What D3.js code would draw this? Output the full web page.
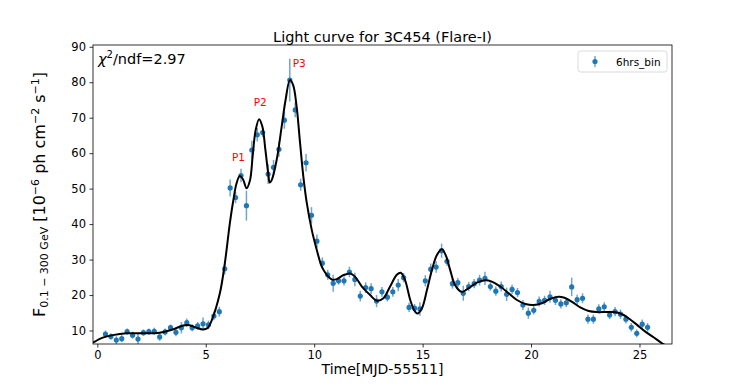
<!DOCTYPE html>
<html>
<head>
<meta charset="utf-8">
<script src="https://cdn.jsdelivr.net/npm/d3@7"></script>
<style>
  body { margin: 0; background: #fff; }
  svg text { font-family: "DejaVu Sans", sans-serif; }
</style>
</head>
<body>
<div id="chart"></div>
<script>
// 6 hour binned light curve (time in MJD-55511)
var times = [0.375, 0.625, 0.875, 1.125, 1.375, 1.625, 1.875, 2.125, 2.375, 2.625,
  2.875, 3.125, 3.375, 3.625, 3.875, 4.125, 4.375, 4.625, 4.875, 5.125,
  5.375, 5.625, 5.875, 6.125, 6.375, 6.625, 6.875, 7.125, 7.375, 7.625,
  7.875, 8.125, 8.375, 8.625, 8.875, 9.125, 9.375, 9.625, 9.875, 10.125,
  10.375, 10.625, 10.875, 11.125, 11.375, 11.625, 11.875, 12.125, 12.375, 12.625,
  12.875, 13.125, 13.375, 13.625, 13.875, 14.125, 14.375, 14.625, 14.875, 15.125,
  15.375, 15.625, 15.875, 16.125, 16.375, 16.625, 16.875, 17.125, 17.375, 17.625,
  17.875, 18.125, 18.375, 18.625, 18.875, 19.125, 19.375, 19.625, 19.875, 20.125,
  20.375, 20.625, 20.875, 21.125, 21.375, 21.625, 21.875, 22.125, 22.375, 22.625,
  22.875, 23.125, 23.375, 23.625, 23.875, 24.125, 24.375, 24.625, 24.875, 25.125,
  25.375];
var flux = [9.0, 8.3, 7.3, 7.7, 9.7, 8.7, 7.6, 9.4, 9.7, 9.8,
  8.2, 9.6, 10.8, 9.5, 10.8, 12.2, 10.8, 11.3, 11.9, 11.6,
  14.1, 15.3, 27.4, 50.2, 47.5, 53.7, 45.2, 60.9, 65.2, 65.8,
  54.1, 56.0, 61.1, 69.3, 80.6, 72.2, 51.1, 57.3, 42.5, 35.2,
  29.0, 25.7, 23.3, 24.0, 24.0, 26.5, 24.4, 19.7, 22.1, 21.8,
  18.3, 20.9, 19.4, 20.9, 22.8, 24.9, 16.5, 16.3, 16.1, 24.0,
  27.3, 27.9, 32.5, 29.5, 23.2, 23.5, 20.5, 22.4, 23.2, 24.2,
  24.7, 22.4, 21.1, 22.4, 20.2, 21.6, 20.7, 17.2, 14.9, 15.7,
  18.2, 18.5, 19.5, 18.5, 17.5, 17.8, 22.3, 18.7, 19.1, 13.2,
  13.2, 16.1, 16.7, 14.4, 15.3, 14.6, 13.2, 10.9, 9.2, 11.8,
  10.9];
var fluxErr = [1.0, 0.9, 1.1, 1.0, 0.9, 1.0, 1.6, 0.9, 0.9, 1.0,
  1.1, 1.0, 0.9, 1.1, 1.6, 1.2, 1.0, 1.1, 1.8, 1.2,
  1.2, 1.4, 1.6, 2.4, 1.6, 1.9, 4.2, 2.6, 1.9, 1.3,
  2.8, 2.1, 2.1, 2.4, 6.0, 2.1, 1.7, 2.5, 2.3, 1.9,
  1.6, 1.4, 2.4, 1.1, 1.3, 1.5, 1.9, 1.5, 1.5, 1.5,
  1.7, 1.4, 1.2, 1.4, 1.7, 1.3, 1.3, 1.2, 1.9, 1.6,
  1.6, 1.6, 2.0, 1.3, 1.4, 1.3, 2.1, 1.3, 1.3, 1.5,
  1.9, 1.2, 1.3, 1.4, 1.9, 1.3, 1.3, 1.4, 1.6, 1.2,
  1.4, 1.3, 1.7, 1.3, 1.3, 1.2, 2.6, 1.4, 1.4, 1.3,
  1.3, 1.3, 1.3, 1.2, 1.3, 1.3, 1.2, 1.2, 1.1, 1.3,
  1.2];

// fitted model curve
var fitT = [-0.2, 0.25, 0.71, 1.34, 2.10, 2.87, 3.48, 3.95, 4.25, 4.56,
  4.87, 5.10, 5.27, 5.65, 5.88, 6.11, 6.26, 6.42, 6.57, 6.72,
  6.88, 7.04, 7.16, 7.30, 7.46, 7.61, 7.75, 7.88, 7.95, 8.04,
  8.27, 8.50, 8.68, 8.88, 9.03, 9.19, 9.35, 9.50, 9.66, 9.89,
  10.12, 10.35, 10.58, 10.81, 11.04, 11.34, 11.65, 11.88, 12.20, 12.58,
  12.89, 13.19, 13.50, 13.81, 13.99, 14.19, 14.43, 14.61, 14.76, 14.97,
  15.20, 15.43, 15.66, 15.89, 16.08, 16.27, 16.50, 16.80, 17.11, 17.50,
  17.89, 18.19, 18.58, 18.97, 19.35, 19.74, 20.12, 20.50, 20.88, 21.27,
  21.50, 21.89, 22.27, 22.66, 23.04, 23.42, 23.81, 24.20, 24.51, 24.89,
  25.27, 25.65, 26.04, 26.3];
var fitV = [6.6, 8.0, 8.7, 9.2, 9.2, 9.4, 10.3, 11.4, 11.5, 10.8,
  10.3, 10.8, 12.8, 20.5, 29.0, 40.2, 46.3, 51.5, 53.6, 52.6,
  50.1, 52.4, 59.0, 66.5, 69.6, 67.5, 60.9, 54.3, 51.7, 52.4,
  58.1, 67.5, 75.0, 80.6, 79.2, 73.1, 62.8, 53.4, 45.9, 38.3,
  32.7, 28.0, 25.7, 24.4, 24.5, 25.6, 26.1, 25.2, 22.4, 20.0,
  18.4, 19.1, 22.4, 25.7, 26.3, 24.2, 18.6, 15.8, 14.8, 16.3,
  21.4, 27.1, 31.3, 32.9, 31.0, 27.1, 22.8, 20.9, 21.9, 23.5,
  24.2, 23.8, 22.4, 20.5, 18.6, 17.5, 17.2, 17.7, 18.9, 19.5,
  19.3, 18.1, 16.5, 15.5, 15.2, 15.2, 15.2, 14.6, 13.4, 11.6,
  9.7, 8.1, 6.4, 5.5];

var xTicks = [0, 5, 10, 15, 20, 25];
var yTicks = [10, 20, 30, 40, 50, 60, 70, 80, 90];

var peakNames = ["P1", "P2", "P3"];
var peakT = [6.51, 7.51, 9.31];
var peakV = [57.8, 73.4, 84.4];

var blue = "#1f77b4";
var W = 747, H = 388;
var margin = {left: 93, right: 75, top: 45, bottom: 44};

var svg = d3.select("#chart").append("svg")
  .attr("width", W)
  .attr("height", H);

var x = d3.scaleLinear()
  .domain([-0.2, 26.5])
  .range([margin.left, W - margin.right]);
var y = d3.scaleLinear()
  .domain([6.2, 90.5])
  .range([H - margin.bottom, margin.top]);

svg.append("defs").append("clipPath")
  .attr("id", "plotclip")
  .append("rect")
  .attr("x", margin.left)
  .attr("y", margin.top)
  .attr("width", W - margin.left - margin.right)
  .attr("height", H - margin.top - margin.bottom);

var plot = svg.append("g").attr("clip-path", "url(#plotclip)");

// error bars
var pts = times.map(function(t, i){ return {t: t, v: flux[i], e: fluxErr[i]}; });
plot.selectAll("line.err")
  .data(pts)
  .enter()
  .append("line")
  .attr("class", "err")
  .attr("x1", function(d){ return x(d.t); })
  .attr("x2", function(d){ return x(d.t); })
  .attr("y1", function(d){ return y(d.v - d.e); })
  .attr("y2", function(d){ return y(d.v + d.e); })
  .attr("stroke", blue)
  .attr("stroke-opacity", 0.65)
  .attr("stroke-width", 1.5);

plot.selectAll("circle.pt")
  .data(pts)
  .enter()
  .append("circle")
  .attr("class", "pt")
  .attr("cx", function(d){ return x(d.t); })
  .attr("cy", function(d){ return y(d.v); })
  .attr("r", 2.6)
  .attr("fill", blue);

// fit curve
var fit = fitT.map(function(t, i){ return [t, fitV[i]]; });
var line = d3.line()
  .x(function(d){ return x(d[0]); })
  .y(function(d){ return y(d[1]); })
  .curve(d3.curveCatmullRom.alpha(0.5));
plot.append("path")
  .datum(fit)
  .attr("d", line)
  .attr("fill", "none")
  .attr("stroke", "#000")
  .attr("stroke-width", 2);

// axes
var xAxis = d3.axisBottom(x).tickValues(xTicks).tickSize(3.5).tickPadding(3.5);
var yAxis = d3.axisLeft(y).tickValues(yTicks).tickSize(3.5).tickPadding(3.5);

var gx = svg.append("g")
  .attr("transform", "translate(0," + (H - margin.bottom) + ")")
  .call(xAxis);
var gy = svg.append("g")
  .attr("transform", "translate(" + margin.left + ",0)")
  .call(yAxis);
[gx, gy].forEach(function(g){
  g.select(".domain").remove();
  g.selectAll("text").attr("font-size", 11.5).attr("fill", "#000")
    .attr("font-family", "DejaVu Sans");
  g.selectAll("line").attr("stroke", "#000").attr("stroke-width", 0.8);
});

// frame
svg.append("rect")
  .attr("x", margin.left)
  .attr("y", margin.top)
  .attr("width", W - margin.left - margin.right)
  .attr("height", H - margin.top - margin.bottom)
  .attr("fill", "none")
  .attr("stroke", "#000")
  .attr("stroke-width", 0.8);

// peak labels
svg.selectAll("text.peak")
  .data(peakNames)
  .enter()
  .append("text")
  .attr("class", "peak")
  .attr("x", function(d, i){ return x(peakT[i]); })
  .attr("y", function(d, i){ return y(peakV[i]); })
  .attr("text-anchor", "middle")
  .attr("font-size", 10.5)
  .attr("fill", "red")
  .text(function(d){ return d; });

// title and labels
svg.append("text")
  .attr("x", (margin.left + W - margin.right) / 2)
  .attr("y", 42)
  .attr("text-anchor", "middle")
  .attr("font-size", 14.5)
  .text("Light curve for 3C454 (Flare-I)");

svg.append("text")
  .attr("x", (margin.left + W - margin.right) / 2)
  .attr("y", 374)
  .attr("text-anchor", "middle")
  .attr("font-size", 14)
  .text("Time[MJD-55511]");

var yl = svg.append("text")
  .attr("transform", "translate(45," + ((margin.top + H - margin.bottom) / 2) + ") rotate(-90)")
  .attr("text-anchor", "middle")
  .attr("font-size", 16);
yl.append("tspan").text("F");
yl.append("tspan").attr("font-size", 11).attr("dy", 3).text("0.1 \u2212 300 GeV");
yl.append("tspan").attr("dy", -3).text(" [10");
yl.append("tspan").attr("font-size", 11).attr("dy", -6).text("\u22126");
yl.append("tspan").attr("dy", 6).text(" ph cm");
yl.append("tspan").attr("font-size", 11).attr("dy", -6).text("\u22122");
yl.append("tspan").attr("dy", 6).text(" s");
yl.append("tspan").attr("font-size", 11).attr("dy", -6).text("\u22121");
yl.append("tspan").attr("dy", 6).text("]");

var chi = svg.append("text")
  .attr("x", 98)
  .attr("y", 64)
  .attr("font-size", 14.5);
chi.append("tspan").attr("font-style", "italic").text("\u03c7");
chi.append("tspan").attr("font-size", 10).attr("dy", -6).text("2");
chi.append("tspan").attr("dy", 6).text("/ndf=2.97");

// legend
var lg = svg.append("g").attr("transform", "translate(578,51)");
lg.append("rect")
  .attr("width", 89)
  .attr("height", 21)
  .attr("rx", 2.5)
  .attr("fill", "#fff")
  .attr("fill-opacity", 0.8)
  .attr("stroke", "#d0d0d0")
  .attr("stroke-width", 0.8);
lg.append("line")
  .attr("x1", 17).attr("x2", 17)
  .attr("y1", 5).attr("y2", 16)
  .attr("stroke", blue)
  .attr("stroke-opacity", 0.65)
  .attr("stroke-width", 1.5);
lg.append("circle")
  .attr("cx", 17).attr("cy", 10.5)
  .attr("r", 2.6)
  .attr("fill", blue);
lg.append("text")
  .attr("x", 38)
  .attr("y", 14.5)
  .attr("font-size", 10.5)
  .text("6hrs_bin");
</script>
</body>
</html>
